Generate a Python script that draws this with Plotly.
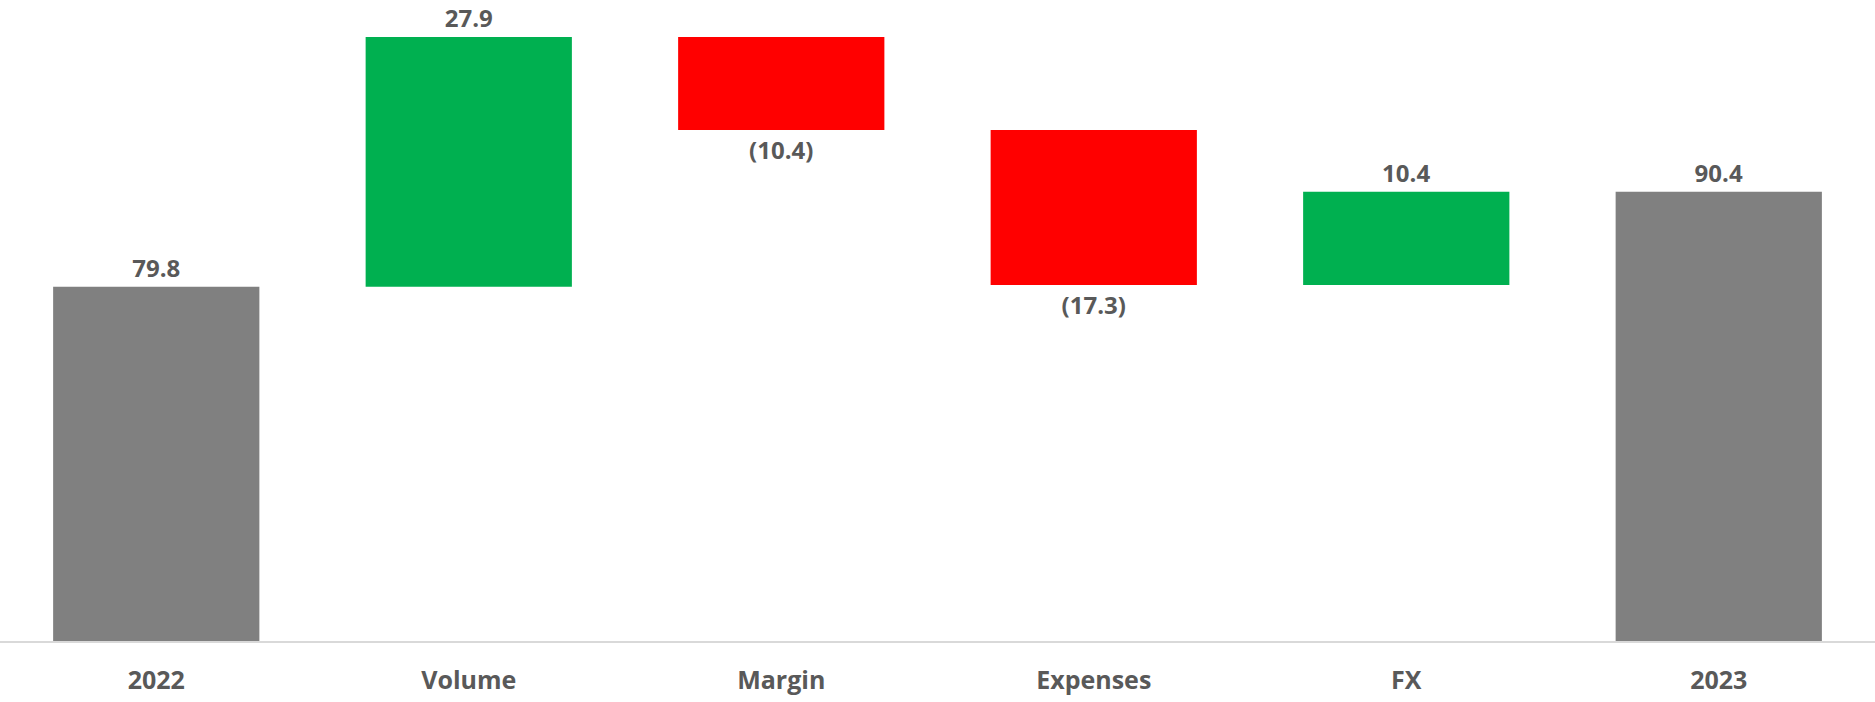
import plotly.graph_objects as go

categories = ["2022", "Volume", "Margin", "Expenses", "FX", "2023"]
values = [79.8, 27.9, -10.4, -17.3, 10.4, 90.4]
measures = ["absolute", "relative", "relative", "relative", "relative", "total"]
labels = ["79.8", "27.9", "(10.4)", "(17.3)", "10.4", "90.4"]

fig = go.Figure(go.Waterfall(
    x=categories,
    y=values,
    measure=measures,
    text=labels,
    textposition="outside",
    textfont=dict(family="Open Sans", size=24, color="#595959", weight="bold"),
    increasing=dict(marker=dict(color="#00B050")),
    decreasing=dict(marker=dict(color="#FF0000")),
    totals=dict(marker=dict(color="#808080")),
    connector=dict(visible=False),
    cliponaxis=False,
    hoverinfo="x+y",
))

fig.update_layout(
    width=1875, height=702,
    margin=dict(l=0, r=0, t=11, b=61),
    paper_bgcolor="white", plot_bgcolor="white",
    showlegend=False,
    waterfallgap=0.34,
    xaxis=dict(
        showline=True, linecolor="#D9D9D9", linewidth=2,
        showgrid=False, ticks="", zeroline=False,
        tickfont=dict(family="Open Sans", size=25, color="#595959", weight="bold"),
        ticklabelstandoff=16,
        range=[-0.5, 5.5],
    ),
    yaxis=dict(
        visible=False, range=[40.24, 110.6], showgrid=False, zeroline=False,
    ),
)

fig.write_html("out.html")
